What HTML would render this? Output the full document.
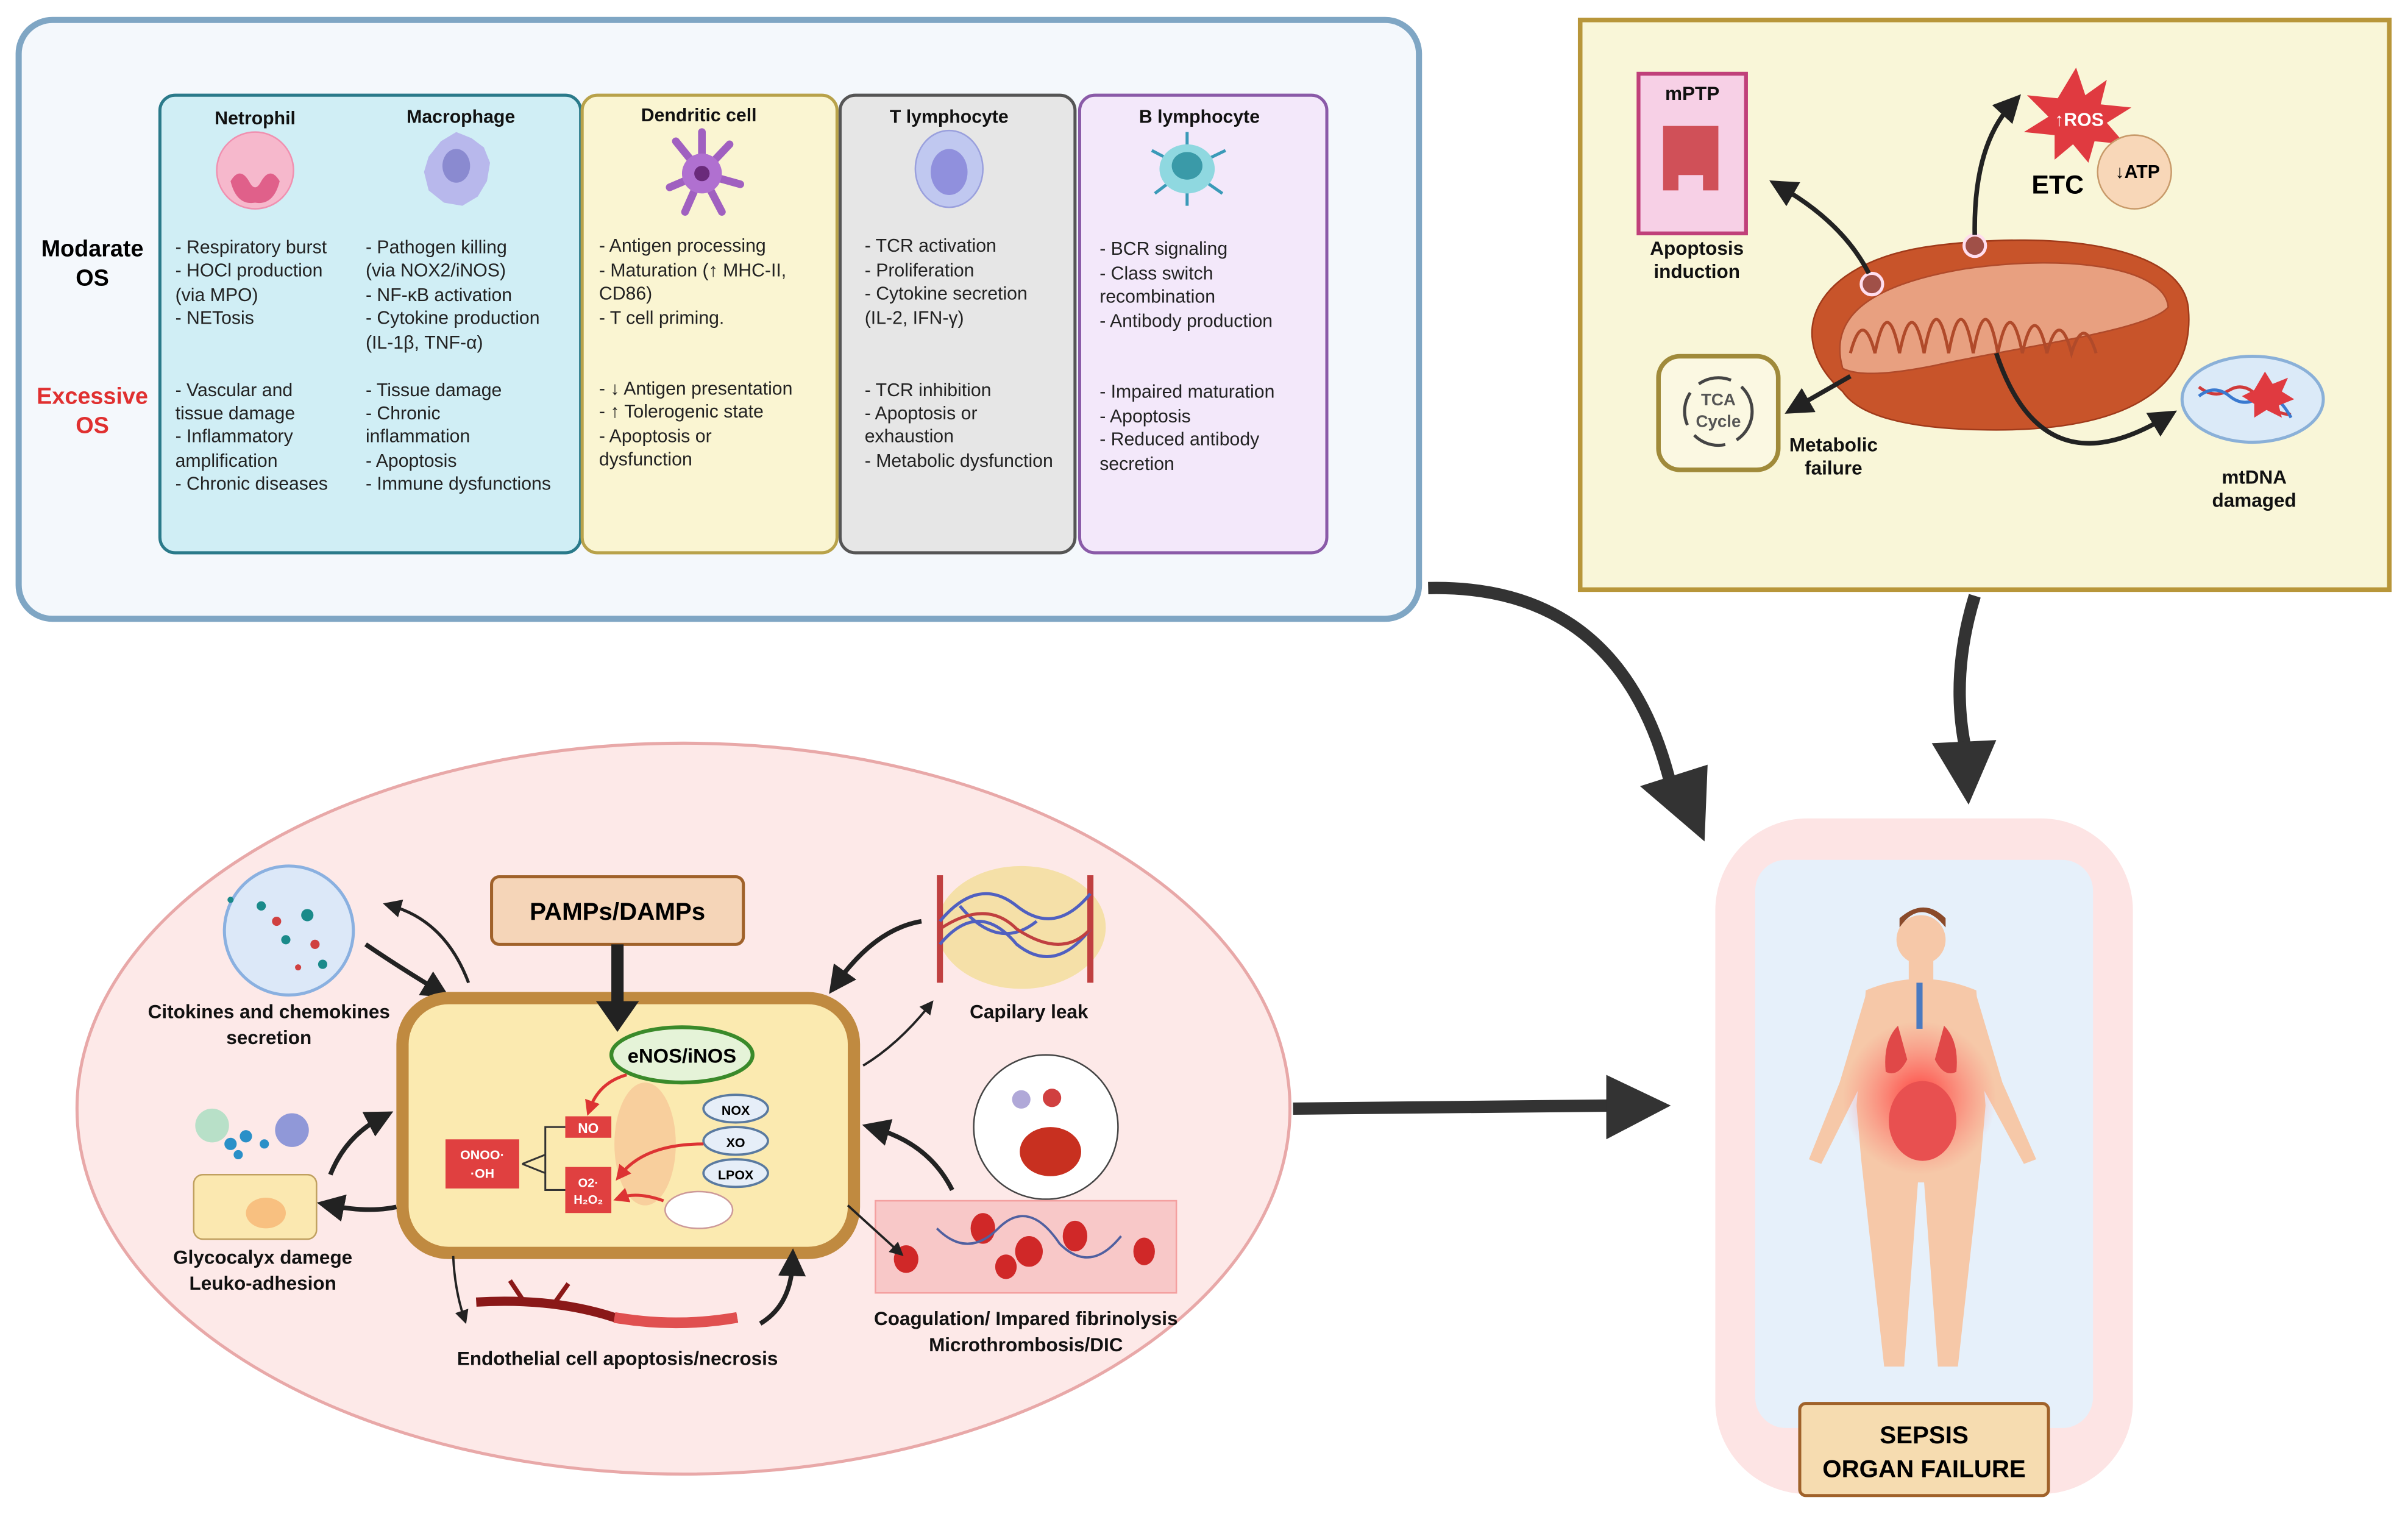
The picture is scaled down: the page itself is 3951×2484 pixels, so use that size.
<!DOCTYPE html>
<html><head><meta charset="utf-8"><style>
html,body{margin:0;padding:0;background:#fff;}
svg{display:block;}
text{font-family:"Liberation Sans",sans-serif;}
.h{font-weight:bold;font-size:12px;text-anchor:middle;fill:#111;}
.t{font-size:12px;fill:#222;}
.b{font-weight:bold;font-size:12.5px;text-anchor:middle;fill:#111;}
</style></head><body>
<svg width="3951" height="2484" viewBox="0 0 1568 986" xmlns="http://www.w3.org/2000/svg">
<defs>
<marker id="ah" viewBox="0 0 10 10" refX="5" refY="5" markerWidth="4" markerHeight="4" orient="auto"><path d="M0,0L10,5L0,10z" fill="#222"/></marker>
<marker id="ahs" viewBox="0 0 10 10" refX="5" refY="5" markerWidth="6" markerHeight="6" orient="auto"><path d="M0,0L10,5L0,10z" fill="#222"/></marker>
<marker id="ahr" viewBox="0 0 10 10" refX="5" refY="5" markerWidth="5" markerHeight="5" orient="auto"><path d="M0,0L10,5L0,10z" fill="#d33"/></marker>
<radialGradient id="glow"><stop offset="0" stop-color="#ff3030" stop-opacity=".9"/><stop offset="1" stop-color="#ff6060" stop-opacity="0"/></radialGradient>
</defs>

<!-- Top-left panel -->
<rect x="12" y="13" width="912" height="390" rx="22" fill="#f4f8fc" stroke="#7fa6c4" stroke-width="4"/>
<rect x="104" y="62" width="274" height="298" rx="10" fill="#d0eef5" stroke="#2a7a8a" stroke-width="2"/>
<rect x="379" y="62" width="166" height="298" rx="10" fill="#faf5d2" stroke="#b8a24a" stroke-width="2"/>
<rect x="547" y="62" width="153" height="298" rx="10" fill="#e6e6e6" stroke="#555" stroke-width="2"/>
<rect x="703" y="62" width="161" height="298" rx="10" fill="#f3e8fa" stroke="#8a5aa8" stroke-width="2"/>
<text x="60" y="167" style="font-weight:bold;font-size:15px;text-anchor:middle">Modarate</text>
<text x="60" y="186" style="font-weight:bold;font-size:15px;text-anchor:middle">OS</text>
<text x="60" y="263" style="font-weight:bold;font-size:15px;text-anchor:middle;fill:#e03030">Excessive</text>
<text x="60" y="282" style="font-weight:bold;font-size:15px;text-anchor:middle;fill:#e03030">OS</text>
<text class="h" x="166" y="81">Netrophil</text>
<text class="h" x="300" y="80">Macrophage</text>
<text class="h" x="455" y="79">Dendritic cell</text>
<text class="h" x="618" y="80">T lymphocyte</text>
<text class="h" x="781" y="80">B lymphocyte</text>
<!-- cell icons -->
<ellipse cx="166" cy="111" rx="25" ry="25" fill="#f6b8cc" stroke="#f090b0"/>
<path d="M150,118 q6,-10 12,0 q4,8 8,0 q6,-10 12,0 q-4,16 -16,14 q-12,2 -16,-14z" fill="#e0608a"/>
<path d="M297,86 l10,4 8,6 4,10 -2,12 -6,10 -10,6 -12,-2 -10,-8 -3,-12 3,-10 8,-10z" fill="#b8b8ec"/>
<ellipse cx="297" cy="108" rx="9" ry="11" fill="#8a8ad0"/>
<g stroke="#a060c0" stroke-width="5" stroke-linecap="round"><line x1="457" y1="113" x2="440" y2="92"/><line x1="457" y1="113" x2="475" y2="94"/><line x1="457" y1="113" x2="436" y2="122"/><line x1="457" y1="113" x2="482" y2="120"/><line x1="457" y1="113" x2="446" y2="138"/><line x1="457" y1="113" x2="470" y2="138"/><line x1="457" y1="113" x2="457" y2="86"/></g>
<circle cx="457" cy="113" r="13" fill="#b070d0"/><circle cx="457" cy="113" r="5" fill="#6a2a7a"/>
<ellipse cx="618" cy="110" rx="22" ry="25" fill="#c0c8f0" stroke="#9aa0dd"/><ellipse cx="618" cy="112" rx="12" ry="15" fill="#9090dd"/>
<g stroke="#3a9ab8" stroke-width="2"><line x1="773" y1="110" x2="773" y2="86"/><line x1="773" y1="110" x2="750" y2="98"/><line x1="773" y1="110" x2="798" y2="98"/><line x1="773" y1="110" x2="752" y2="126"/><line x1="773" y1="110" x2="796" y2="126"/><line x1="773" y1="110" x2="773" y2="134"/></g>
<ellipse cx="773" cy="110" rx="18" ry="16" fill="#8fd8e0"/><ellipse cx="773" cy="108" rx="10" ry="9" fill="#3a9aa8"/>
<!-- texts -->
<g class="t">
<text x="114" y="165">- Respiratory burst</text><text x="114" y="180">- HOCl production</text><text x="114" y="196">(via MPO)</text><text x="114" y="211">- NETosis</text>
<text x="238" y="165">- Pathogen killing</text><text x="238" y="180">(via NOX2/iNOS)</text><text x="238" y="196"> - NF-κB activation</text><text x="238" y="211"> - Cytokine production</text><text x="238" y="227">(IL-1β, TNF-α)</text>
<text x="390" y="164">- Antigen processing</text><text x="390" y="180">- Maturation (↑ MHC-II,</text><text x="390" y="195">CD86)</text><text x="390" y="211">- T cell priming.</text>
<text x="563" y="164">- TCR activation</text><text x="563" y="180">- Proliferation</text><text x="563" y="195">- Cytokine secretion</text><text x="563" y="211">(IL-2, IFN-γ)</text>
<text x="716" y="166">- BCR signaling</text><text x="716" y="182">- Class switch</text><text x="716" y="197">recombination</text><text x="716" y="213">- Antibody production</text>
<text x="114" y="258">- Vascular and</text><text x="114" y="273">tissue damage</text><text x="114" y="288">- Inflammatory</text><text x="114" y="304">amplification</text><text x="114" y="319">- Chronic diseases</text>
<text x="238" y="258">- Tissue damage</text><text x="238" y="273">- Chronic</text><text x="238" y="288">inflammation</text><text x="238" y="304">- Apoptosis</text><text x="238" y="319">- Immune dysfunctions</text>
<text x="390" y="257">- ↓ Antigen presentation</text><text x="390" y="272">- ↑ Tolerogenic state</text><text x="390" y="288">- Apoptosis or</text><text x="390" y="303">dysfunction</text>
<text x="563" y="258">- TCR inhibition</text><text x="563" y="273">- Apoptosis or</text><text x="563" y="288">exhaustion</text><text x="563" y="304">- Metabolic dysfunction</text>
<text x="716" y="259">- Impaired maturation</text><text x="716" y="275">- Apoptosis</text><text x="716" y="290">- Reduced antibody</text><text x="716" y="306">secretion</text>
</g>

<!-- Top-right panel -->
<rect x="1029" y="13" width="527" height="371" fill="#f9f6d8" stroke="#b8963a" stroke-width="3"/>
<rect x="1067" y="48" width="70" height="104" fill="#f7d0e6" stroke="#c0407a" stroke-width="2.5"/>
<text class="b" x="1102" y="65">mPTP</text>
<path d="M1083,82 h36 v42 h-10 v-10 h-16 v10 h-10z" fill="#d05058"/>
<text class="b" x="1105" y="166">Apoptosis</text><text class="b" x="1105" y="181">induction</text>
<path d="M1200,255 C1160,220 1180,170 1260,160 C1340,150 1420,160 1425,200 C1430,250 1390,280 1300,280 C1240,280 1210,270 1200,255z" fill="#c8542a" stroke="#a03a1a"/>
<path d="M1200,240 C1190,205 1220,185 1280,175 C1350,165 1410,175 1412,200 C1400,215 1320,225 1260,238 C1230,244 1210,245 1200,240z" fill="#e8a080" stroke="#b04a2a"/>
<path d="M1205,230 q8,-30 16,0 q8,-40 16,0 q8,-40 16,0 q8,-44 16,0 q8,-44 16,0 q8,-44 16,0 q8,-40 16,0 q8,-36 16,0 q8,-30 16,0 q8,-26 16,0" fill="none" stroke="#b04a2a" stroke-width="2"/>
<circle cx="1219" cy="185" r="7" fill="#a05048" stroke="#fde" stroke-width="2"/>
<circle cx="1286" cy="160" r="7" fill="#a05048" stroke="#fde" stroke-width="2"/>
<path d="M1217,178 Q1200,145 1160,122" fill="none" stroke="#222" stroke-width="3" marker-end="url(#ahs)"/>
<path d="M1286,153 Q1285,95 1310,68" fill="none" stroke="#222" stroke-width="3" marker-end="url(#ahs)"/>
<polygon points="1352,44 1358,62 1372,52 1368,68 1388,70 1372,80 1384,94 1364,92 1360,106 1350,94 1338,104 1338,88 1318,86 1334,76 1320,62 1340,64" fill="#e03a40"/>
<text x="1354" y="82" style="font-weight:bold;font-size:12px;fill:#fff;text-anchor:middle">↑ROS</text>
<circle cx="1390" cy="112" r="24" fill="#f8d7b8" stroke="#c89a6a"/>
<text x="1392" y="116" style="font-weight:bold;font-size:12px;text-anchor:middle">↓ATP</text>
<text x="1340" y="126" style="font-weight:bold;font-size:17px;text-anchor:middle">ETC</text>
<rect x="1080" y="232" width="78" height="74" rx="14" fill="#fbf8e2" stroke="#a08a3a" stroke-width="3"/>
<circle cx="1119" cy="268" r="22" fill="none" stroke="#444" stroke-width="2" stroke-dasharray="22 8"/>
<text x="1119" y="264" style="font-weight:bold;font-size:11px;text-anchor:middle;fill:#555">TCA</text>
<text x="1119" y="278" style="font-weight:bold;font-size:11px;text-anchor:middle;fill:#555">Cycle</text>
<path d="M1205,245 L1170,265" stroke="#222" stroke-width="3" marker-end="url(#ahs)"/>
<text class="b" x="1194" y="294">Metabolic</text><text class="b" x="1194" y="309">failure</text>
<path d="M1300,230 Q1330,320 1410,272" fill="none" stroke="#222" stroke-width="3" marker-end="url(#ahs)"/>
<ellipse cx="1467" cy="260" rx="46" ry="28" fill="#dbeaf8" stroke="#8ab0d8" stroke-width="2"/>
<path d="M1432,252 q10,8 20,2 q10,-6 20,6 q10,10 20,10" fill="none" stroke="#d03a3a" stroke-width="2"/>
<path d="M1432,258 q10,-8 20,0 q10,8 20,0 q10,-4 20,14" fill="none" stroke="#3a7ad0" stroke-width="2"/>
<polygon points="1475,242 1480,250 1490,246 1486,255 1494,260 1484,264 1486,272 1476,267 1468,272 1468,263 1460,258 1468,254" fill="#e03a40"/>
<text class="b" x="1468" y="315">mtDNA</text><text class="b" x="1468" y="330">damaged</text>

<!-- big arrows -->
<path d="M930,383 Q1060,380 1090,520" fill="none" stroke="#333" stroke-width="8"/>
<polygon points="1068,512 1110,548 1112,498" fill="#333"/>
<path d="M1286,388 Q1270,440 1280,488" fill="none" stroke="#333" stroke-width="8"/>
<polygon points="1258,484 1282,524 1300,482" fill="#333"/>
<line x1="842" y1="722" x2="1050" y2="720" stroke="#333" stroke-width="8"/>
<polygon points="1046,700 1088,720 1046,742" fill="#333"/>

<!-- Bottom ellipse -->
<ellipse cx="445" cy="722" rx="395" ry="238" fill="#fde9e8" stroke="#e8a8a8" stroke-width="2"/>
<!-- cytokines globe -->
<circle cx="188" cy="606" r="42" fill="#dce8f8" stroke="#8ab0e0" stroke-width="2"/>
<g fill="#1a8a8a"><circle cx="170" cy="590" r="3"/><circle cx="200" cy="596" r="4"/><circle cx="186" cy="612" r="3"/><circle cx="210" cy="628" r="3"/><circle cx="150" cy="586" r="2"/></g>
<g fill="#d04040"><circle cx="180" cy="600" r="3"/><circle cx="205" cy="615" r="3"/><circle cx="194" cy="630" r="2"/></g>
<text class="b" x="175" y="663">Citokines and chemokines</text><text class="b" x="175" y="680">secretion</text>
<path d="M305,640 Q290,600 255,590" fill="none" stroke="#222" stroke-width="2" marker-end="url(#ahs)"/>
<path d="M238,615 Q260,630 285,645" fill="none" stroke="#222" stroke-width="3" marker-end="url(#ahs)"/>
<!-- PAMPs -->
<rect x="320" y="571" width="164" height="44" rx="5" fill="#f5d5b8" stroke="#a0622a" stroke-width="2"/>
<text x="402" y="599" style="font-weight:bold;font-size:16px;text-anchor:middle">PAMPs/DAMPs</text>
<!-- cell -->
<rect x="262" y="650" width="294" height="166" rx="30" fill="#fbeab0" stroke="#c08a40" stroke-width="8"/>
<line x1="402" y1="615" x2="402" y2="655" stroke="#222" stroke-width="8"/>
<polygon points="388,652 416,652 402,672" fill="#222"/>
<ellipse cx="420" cy="745" rx="20" ry="40" fill="#f8c898" opacity=".8"/>
<ellipse cx="444" cy="687" rx="46" ry="18" fill="#e5f3d8" stroke="#3a8a2a" stroke-width="2.5"/>
<text x="444" y="692" style="font-weight:bold;font-size:13px;text-anchor:middle">eNOS/iNOS</text>
<path d="M408,700 Q390,705 384,722" fill="none" stroke="#d33" stroke-width="2" marker-end="url(#ahr)"/>
<rect x="368" y="727" width="30" height="14" fill="#e04040"/><text x="383" y="738" style="font-weight:bold;font-size:9px;fill:#fff;text-anchor:middle">NO</text>
<rect x="290" y="742" width="48" height="32" fill="#e04040"/><text x="314" y="755" style="font-weight:bold;font-size:8.5px;fill:#fff;text-anchor:middle">ONOO·</text><text x="314" y="767" style="font-weight:bold;font-size:8.5px;fill:#fff;text-anchor:middle">·OH</text>
<rect x="368" y="760" width="30" height="30" fill="#e04040"/><text x="383" y="773" style="font-weight:bold;font-size:8px;fill:#fff;text-anchor:middle">O2·</text><text x="383" y="784" style="font-weight:bold;font-size:8px;fill:#fff;text-anchor:middle">H₂O₂</text>
<path d="M368,734 H355 V775 H368 M340,758 L355,752 M340,758 L355,764" fill="none" stroke="#333" stroke-width="1.2"/>
<g fill="#e6eef8" stroke="#5a7aa0" stroke-width="1.5"><ellipse cx="479" cy="722" rx="21" ry="9"/><ellipse cx="479" cy="743" rx="21" ry="9"/><ellipse cx="479" cy="764" rx="21" ry="9"/></g>
<text x="479" y="726" style="font-weight:bold;font-size:8.5px;text-anchor:middle">NOX</text>
<text x="479" y="747" style="font-weight:bold;font-size:8.5px;text-anchor:middle">XO</text>
<text x="479" y="768" style="font-weight:bold;font-size:8.5px;text-anchor:middle">LPOX</text>
<path d="M458,745 Q420,745 404,765" fill="none" stroke="#d33" stroke-width="2" marker-end="url(#ahr)"/>
<path d="M432,782 Q415,776 404,780" fill="none" stroke="#d33" stroke-width="2" marker-end="url(#ahr)"/>
<ellipse cx="455" cy="788" rx="22" ry="12" fill="#fff" stroke="#c99"/>
<!-- glycocalyx -->
<rect x="126" y="765" width="80" height="42" rx="6" fill="#fbe8b0" stroke="#c0a060"/>
<ellipse cx="173" cy="790" rx="13" ry="10" fill="#f8c080"/>
<circle cx="138" cy="733" r="11" fill="#b8e0c8"/><circle cx="190" cy="736" r="11" fill="#9098d8"/>
<g fill="#2a90c8"><circle cx="150" cy="745" r="4"/><circle cx="160" cy="740" r="4"/><circle cx="172" cy="745" r="3"/><circle cx="155" cy="752" r="3"/></g>
<text class="b" x="171" y="823">Glycocalyx damege</text><text class="b" x="171" y="840">Leuko-adhesion</text>
<path d="M258,786 Q240,790 215,785" fill="none" stroke="#222" stroke-width="3" marker-end="url(#ahs)"/>
<path d="M215,765 Q225,740 248,728" fill="none" stroke="#222" stroke-width="3" marker-end="url(#ahs)"/>
<!-- capillary -->
<ellipse cx="665" cy="604" rx="55" ry="40" fill="#f5e0a8"/>
<path d="M612,570 V640 M710,570 V640" stroke="#c04040" stroke-width="4"/>
<path d="M612,600 q25,-30 50,-10 q25,20 48,-8 M612,615 q25,-30 50,0 q25,20 48,-10 M625,590 q25,30 50,10" fill="none" stroke="#5060c0" stroke-width="2"/>
<path d="M612,605 q30,-20 50,0 q30,20 48,0" fill="none" stroke="#c04040" stroke-width="2"/>
<text class="b" x="670" y="663">Capilary leak</text>
<path d="M600,600 Q570,605 545,640" fill="none" stroke="#222" stroke-width="3" marker-end="url(#ahs)"/>
<path d="M562,694 Q585,680 605,655" fill="none" stroke="#222" stroke-width="1.5" marker-end="url(#ahs)"/>
<!-- coagulation -->
<circle cx="681" cy="734" r="47" fill="#fff" stroke="#444"/>
<ellipse cx="684" cy="750" rx="20" ry="16" fill="#c83020"/>
<circle cx="665" cy="716" r="6" fill="#b0a8d8"/><circle cx="685" cy="715" r="6" fill="#d04040"/>
<rect x="570" y="782" width="196" height="60" fill="#f8c8c8" stroke="#f4a0a0"/>
<g fill="#d02828"><ellipse cx="590" cy="820" rx="8" ry="9"/><ellipse cx="640" cy="800" rx="8" ry="10"/><ellipse cx="670" cy="815" rx="9" ry="10"/><ellipse cx="700" cy="805" rx="8" ry="10"/><ellipse cx="745" cy="815" rx="7" ry="9"/><ellipse cx="655" cy="825" rx="7" ry="8"/></g>
<path d="M610,800 q20,20 40,0 q20,-20 40,10 q20,20 40,-5" fill="none" stroke="#5060a0" stroke-width="1.5"/>
<text class="b" x="668" y="863">Coagulation/ Impared fibrinolysis</text><text class="b" x="668" y="880">Microthrombosis/DIC</text>
<path d="M620,775 Q605,745 570,735" fill="none" stroke="#222" stroke-width="3" marker-end="url(#ahs)"/>
<path d="M552,785 L585,815" stroke="#222" stroke-width="1.5" marker-end="url(#ahs)"/>
<!-- endothelial -->
<path d="M310,848 Q360,845 400,858 Q440,865 480,858" fill="none" stroke="#8a1818" stroke-width="6"/>
<path d="M400,858 Q440,865 480,858" fill="none" stroke="#e05050" stroke-width="7"/>
<path d="M340,846 l-8,-12 M360,850 l10,-14" stroke="#8a1818" stroke-width="3"/>
<text class="b" x="402" y="889">Endothelial cell apoptosis/necrosis</text>
<path d="M295,818 Q296,840 302,858" fill="none" stroke="#222" stroke-width="1.5" marker-end="url(#ahs)"/>
<path d="M495,862 Q515,850 516,822" fill="none" stroke="#222" stroke-width="3" marker-end="url(#ahs)"/>

<!-- Right human panel -->
<rect x="1117" y="533" width="272" height="440" rx="60" fill="#fde4e4"/>
<rect x="1143" y="560" width="220" height="370" rx="20" fill="#e6f0fa"/>
<g fill="#f6c8a8">
<circle cx="1251" cy="612" r="16"/>
<rect x="1243" y="624" width="16" height="16"/>
<path d="M1215,645 Q1251,630 1287,645 L1293,720 L1290,755 L1275,890 L1262,890 L1253,770 L1249,770 L1240,890 L1227,890 L1212,755 L1209,720z"/>
<path d="M1215,648 L1198,705 L1178,755 L1186,758 L1210,710 L1222,680z"/>
<path d="M1287,648 L1304,705 L1326,755 L1318,758 L1292,710 L1280,680z"/>
</g>
<path d="M1237,604 q14,-20 30,0 v-6 q-14,-14 -30,0z" fill="#8a4a2a"/>
<circle cx="1250" cy="715" r="50" fill="url(#glow)"/>
<path d="M1236,668 q-10,10 -8,30 q8,4 14,-8z M1266,668 q10,10 8,30 q-8,4 -14,-8z" fill="#e04848"/>
<ellipse cx="1252" cy="730" rx="22" ry="26" fill="#e85050"/>
<rect x="1248" y="640" width="4" height="30" fill="#4a7ac0"/>
<rect x="1172" y="914" width="162" height="60" rx="4" fill="#f6dcb0" stroke="#a0622a" stroke-width="2"/>
<text x="1253" y="940" style="font-weight:bold;font-size:16px;text-anchor:middle">SEPSIS</text>
<text x="1253" y="962" style="font-weight:bold;font-size:16px;text-anchor:middle">ORGAN FAILURE</text>
</svg>
</body></html>
